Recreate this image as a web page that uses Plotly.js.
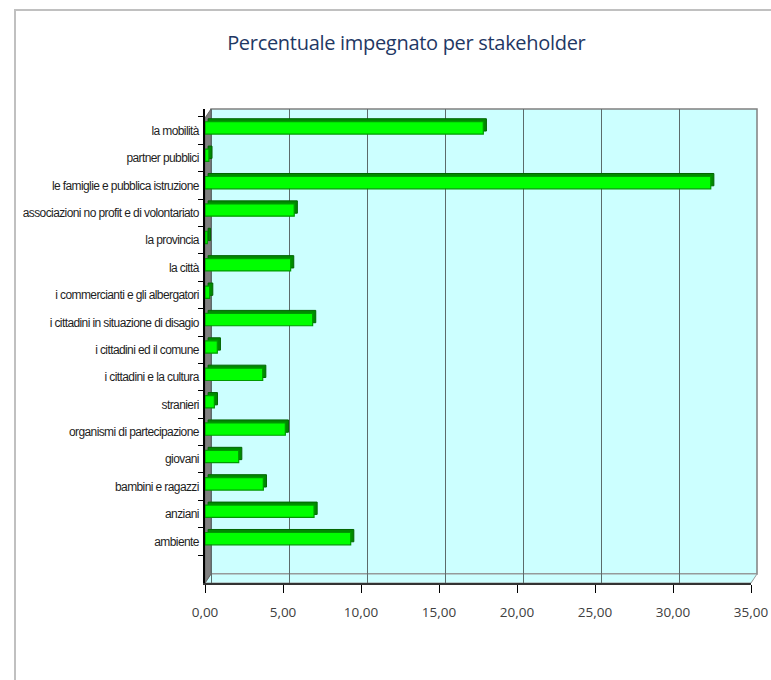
<!DOCTYPE html>
<html>
<head>
<meta charset="utf-8">
<script src="https://cdn.plot.ly/plotly-3.0.1.min.js"></script>
<style>
  body { margin: 0; background: #fff; }
  #myPlot { width: 771px; height: 680px; }
  /* the original labels are tightly spaced */
  #myPlot .ytick text { letter-spacing: -0.6px; }
  #myPlot .gtitle { letter-spacing: -0.3px; }
</style>
</head>
<body>
<div id="myPlot"></div>
<script>
// stakeholder categories, bottom to top
const stakeholders = [
    'ambiente', 'anziani', 'bambini e ragazzi', 'giovani',
    'organismi di partecipazione', 'stranieri', 'i cittadini e la cultura',
    'i cittadini ed il comune', 'i cittadini in situazione di disagio',
    'i commercianti e gli albergatori', 'la città', 'la provincia',
    'associazioni no profit e di volontariato', 'le famiglie e pubblica istruzione',
    'partner pubblici', 'la mobilità'
];
const percentImpegnato = [
    9.34, 6.99, 3.74, 2.16,
    5.15, 0.6, 3.7,
    0.79, 6.9,
    0.3, 5.49, 0.15,
    5.72, 32.42,
    0.25, 17.84
];
const xTickValues = [0, 5, 10, 15, 20, 25, 30, 35];

const graph_div_id = 'myPlot';
const labelFont = 'Liberation Sans Narrow, Arial Narrow, Arial, sans-serif';

// dark copy behind the bar gives the 3D top/side faces
const depthTrace = {
    type: 'bar', orientation: 'h',
    x: percentImpegnato, y: stakeholders,
    base: 0.2, width: 0.45, offset: -0.015,
    marker: { color: '#008a00', line: { color: '#006400', width: 1 } },
    hoverinfo: 'skip', showlegend: false
};
const frontTrace = {
    type: 'bar', orientation: 'h',
    x: percentImpegnato, y: stakeholders,
    width: 0.45, offset: -0.125,
    marker: { color: '#00ff00', line: { color: '#009a00', width: 1.2 } },
    showlegend: false
};
// empty trace so the back-wall grid axis gets drawn
const wallTrace = { type: 'bar', orientation: 'h', x: [], y: [], xaxis: 'x2', showlegend: false, hoverinfo: 'skip' };

const data = [wallTrace, depthTrace, frontTrace];

const layout = {
    width: 771, height: 680,
    margin: { l: 205, r: 20, t: 109, b: 97 },
    paper_bgcolor: '#ffffff',
    plot_bgcolor: 'rgba(0,0,0,0)',
    separators: ',.',
    barmode: 'overlay',
    title: {
        text: 'Percentuale impegnato per stakeholder',
        font: { family: 'Open Sans, sans-serif', size: 20, color: '#1f3864' },
        xref: 'container', x: 0.527, xanchor: 'center',
        yref: 'container', y: 0.937, yanchor: 'middle'
    },
    xaxis: {
        range: [0, 35], tickvals: xTickValues, tickformat: '.2f',
        showgrid: false, zeroline: false,
        ticks: 'outside', ticklen: 8, tickcolor: '#000', ticklabelstandoff: 8,
        showline: true, linecolor: '#333', linewidth: 2,
        tickfont: { family: 'Open Sans, sans-serif', size: 13.5, color: '#404040' },
        automargin: false
    },
    xaxis2: {
        overlaying: 'x', range: [-0.385, 34.615], dtick: 5, tick0: 0,
        showgrid: true, gridcolor: '#5c6b6b', gridwidth: 1.2,
        showticklabels: false, ticks: '', showline: false, zeroline: false
    },
    yaxis: {
        type: 'category', categoryorder: 'array', categoryarray: stakeholders,
        range: [-1.52, 15.79],
        tickson: 'boundaries', ticks: 'outside', ticklen: 5, tickcolor: '#000',
        ticklabelstandoff: 2,
        showline: true, linecolor: '#000', linewidth: 1.5,
        showgrid: false, zeroline: false,
        tickfont: { family: labelFont, size: 12, color: '#1e1e1e' },
        automargin: false
    },
    shapes: [
        // outer chart frame
        { type: 'rect', xref: 'paper', yref: 'paper', x0: -0.348, x1: 1.05, y0: -0.24, y1: 1.209,
          line: { color: '#c0c0c0', width: 2 }, layer: 'below' },
        // back wall
        { type: 'rect', xref: 'paper', yref: 'paper', x0: 0.011, x1: 1.011, y0: 0.019, y1: 1,
          fillcolor: '#ccffff', line: { color: '#808080', width: 1.5 }, layer: 'below' },
        // floor
        { type: 'path', xref: 'paper', yref: 'paper', path: 'M 0 0 L 1 0 L 1.011 0.019 L 0.011 0.019 Z',
          fillcolor: '#ccffff', line: { color: '#999999', width: 1 }, layer: 'below' },
        // left side wall
        { type: 'path', xref: 'paper', yref: 'paper', path: 'M 0 0 L 0 0.981 L 0.011 1 L 0.011 0.019 Z',
          fillcolor: '#808080', line: { color: '#666666', width: 1 }, layer: 'below' }
    ]
};

Plotly.newPlot(graph_div_id, data, layout, { displayModeBar: false });
</script>
</body>
</html>
